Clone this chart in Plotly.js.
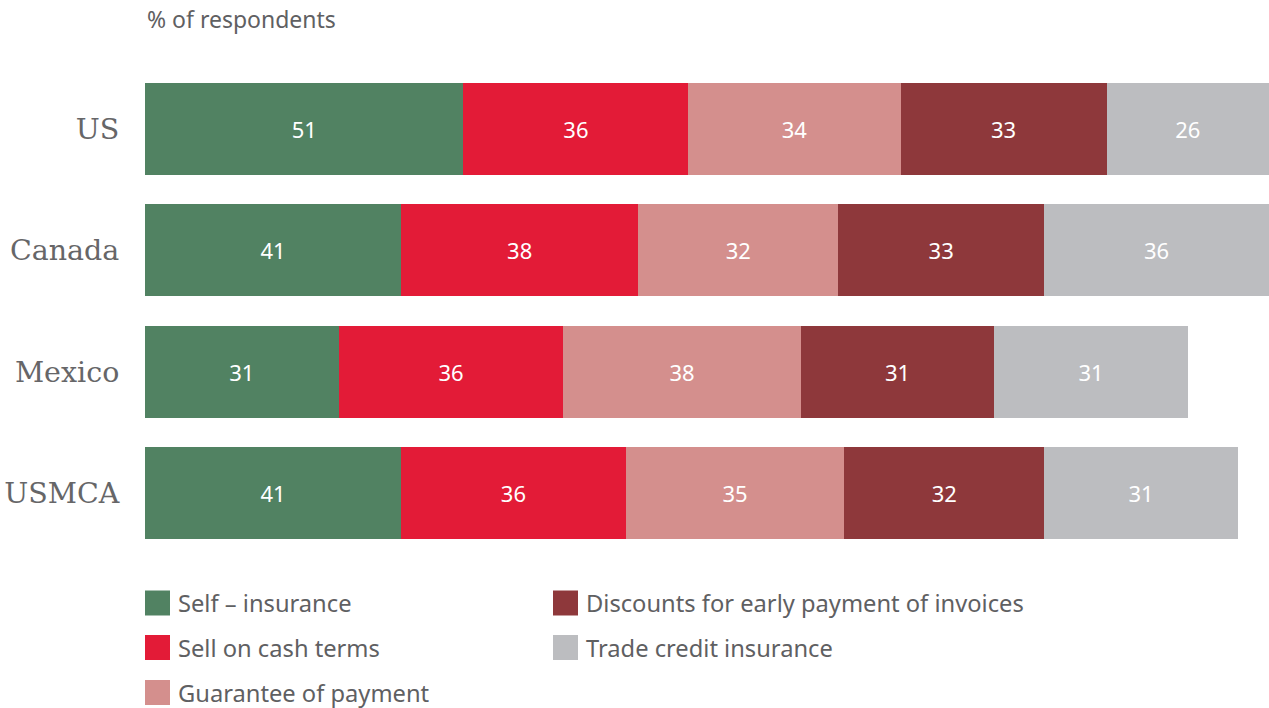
<!DOCTYPE html>
<html>
<head>
<meta charset="utf-8">
<script src="https://cdn.plot.ly/plotly-3.0.1.min.js"></script>
<style>html,body{margin:0;padding:0;background:#fff;}#chart{width:1269px;height:708px;}</style>
</head>
<body>
<div id="chart"></div>
<script>
const regions = ["US", "Canada", "Mexico", "USMCA"];
const seriesNames = ["Self – insurance", "Sell on cash terms", "Guarantee of payment", "Discounts for early payment of invoices", "Trade credit insurance"];
const selfInsurance = [51, 41, 31, 41];
const sellCash = [36, 38, 36, 36];
const guarantee = [34, 32, 38, 35];
const discounts = [33, 33, 31, 32];
const tradeCredit = [26, 36, 31, 31];
const colors = ["#518262", "#E31B37", "#D48F8D", "#8E383B", "#BCBDC0"];
const seriesValues = [selfInsurance, sellCash, guarantee, discounts, tradeCredit];

const W = 1269, H = 708, mL = 145, mR = 0, mT = 68, mB = 154;
const pw = W - mL - mR, ph = H - mT - mB;
const px = x => (x - mL) / pw;
const py = y => 1 - (y - mT) / ph;

const sansFont = "Noto Sans, sans-serif";
const textGray = "#5f6062";

const traces = seriesValues.map((vals, i) => ({
  type: "bar",
  orientation: "h",
  name: seriesNames[i],
  y: regions,
  x: vals,
  text: vals.map(String),
  textposition: "inside",
  insidetextanchor: "middle",
  textangle: 0,
  constraintext: "none",
  textfont: {family: sansFont, size: 22, color: "#ffffff"},
  marker: {color: colors[i], line: {width: 0}},
  width: 0.76,
  hoverinfo: "skip",
  showlegend: false
}));

// Legend laid out in two columns (column-major order)
const legendPos = [
  {col: 0, row: 0}, {col: 0, row: 1}, {col: 0, row: 2},
  {col: 1, row: 0}, {col: 1, row: 1}
];
const colX = [145, 553];
const rowY = [603, 647.5, 692.5];
const sq = 25;
const shapes = [];
const annotations = [];
seriesNames.forEach((n, i) => {
  const p = legendPos[i];
  const x0 = colX[p.col], yc = rowY[p.row];
  shapes.push({
    type: "rect", xref: "paper", yref: "paper",
    x0: px(x0), x1: px(x0 + sq), y0: py(yc + sq / 2), y1: py(yc - sq / 2),
    fillcolor: colors[i], line: {width: 0}
  });
  annotations.push({
    xref: "paper", yref: "paper", x: px(x0 + sq + 6), y: py(yc),
    xanchor: "left", yanchor: "middle", showarrow: false,
    text: n, font: {family: sansFont, size: 23.7, color: textGray}
  });
});
annotations.push({
  xref: "paper", yref: "paper", x: px(145), y: py(19),
  xanchor: "left", yanchor: "middle", showarrow: false,
  text: "% of respondents", font: {family: sansFont, size: 23, color: textGray}
});

const layout = {
  width: W, height: H,
  margin: {l: mL, r: mR, t: mT, b: mB, pad: 0},
  paper_bgcolor: "#ffffff", plot_bgcolor: "#ffffff",
  barmode: "stack",
  showlegend: false,
  xaxis: {range: [0, 180], visible: false, fixedrange: true},
  yaxis: {
    type: "category", categoryorder: "array", categoryarray: regions,
    autorange: "reversed", showgrid: false, zeroline: false, showline: false,
    ticks: "outside", ticklen: 19, tickcolor: "rgba(0,0,0,0)",
    tickfont: {family: "DejaVu Serif, serif", size: 28.5, color: "#666668"}
  },
  shapes: shapes,
  annotations: annotations
};

Plotly.newPlot("chart", traces, layout, {displayModeBar: false, staticPlot: true});
</script>
</body>
</html>
